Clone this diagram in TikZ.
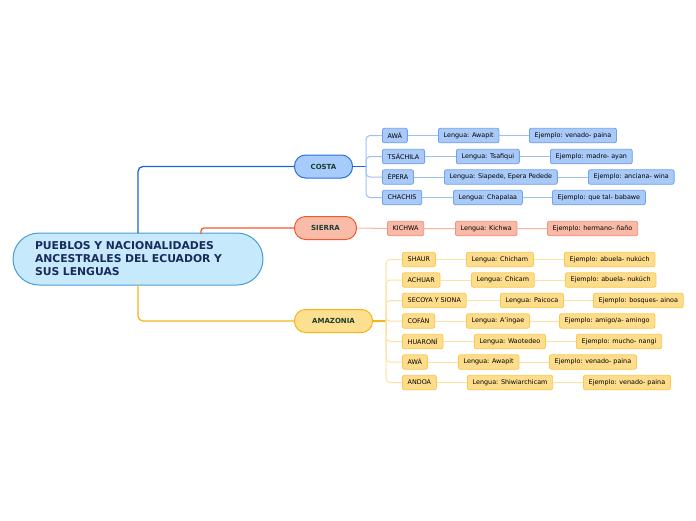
\documentclass[tikz,border=0pt]{standalone}
\usepackage{fontspec}
\setmainfont{DejaVu Sans}
\usetikzlibrary{positioning}
\definecolor{mainfill}{HTML}{C6EAFC}
\definecolor{mainborder}{HTML}{4C9BD6}
\definecolor{titlecol}{HTML}{1A2A5A}
\definecolor{cattext}{HTML}{1B3D33}
\definecolor{costaline}{HTML}{1C64D1}
\definecolor{costafill}{HTML}{A7CBFA}
\definecolor{costaborder}{HTML}{2C70DA}
\definecolor{cchildfill}{HTML}{A9C9F8}
\definecolor{cchildborder}{HTML}{6FA2EC}
\definecolor{clink}{HTML}{9CC0F2}
\definecolor{sierraline}{HTML}{F2582B}
\definecolor{sierrafill}{HTML}{F9BCA9}
\definecolor{schildfill}{HTML}{F8B9A6}
\definecolor{schildborder}{HTML}{F5917A}
\definecolor{slink}{HTML}{F9B5A2}
\definecolor{amaline}{HTML}{F6B516}
\definecolor{amafill}{HTML}{FDDF90}
\definecolor{achildfill}{HTML}{FDDC8C}
\definecolor{achildborder}{HTML}{FAC94E}
\definecolor{alink}{HTML}{FDE1A0}
\tikzset{
  mainbox/.style={draw=mainborder, line width=1pt, fill=mainfill, rounded corners=26pt,
    text width=206pt, inner xsep=22pt, inner ysep=0pt, minimum height=52pt, align=left,
    text=titlecol, font=\fontsize{10.8}{13}\selectfont\bfseries},
  catbox/.style={line width=1pt, rounded corners=11pt, minimum height=23pt, inner xsep=10pt,
    anchor=west, text=cattext, font=\fontsize{7}{8}\selectfont\bfseries},
  child/.style={line width=0.8pt, rounded corners=2pt, minimum height=14.5pt, inner xsep=5.3pt,
    inner ysep=0pt, anchor=west, font=\fontsize{6.4}{7}\selectfont},
  cchild/.style={child, draw=cchildborder, fill=cchildfill},
  schild/.style={child, draw=schildborder, fill=schildfill},
  achild/.style={child, draw=achildborder, fill=achildfill},
  clinkst/.style={draw=clink, line width=1pt},
  slinkst/.style={draw=slink, line width=1pt},
  alinkst/.style={draw=alink, line width=1pt},
}
\begin{document}
\begin{tikzpicture}[x=1pt,y=-1pt]
\useasboundingbox (0,0) rectangle (696,520);
% main
\node[mainbox] (main) at (138,259) {PUEBLOS Y NACIONALIDADES\\ANCESTRALES DEL ECUADOR Y\\SUS LENGUAS};
% categories
\node[catbox, draw=costaborder, fill=costafill, minimum width=58pt] (costa) at (294,166.5) {COSTA};
\node[catbox, draw=sierraline, fill=sierrafill, minimum width=62pt] (sierra) at (294,228) {SIERRA};
\node[catbox, draw=amaline, fill=amafill, minimum width=78pt] (ama) at (294,321) {AMAZONIA};
\coordinate (mc) at (138,233);
\coordinate (ms) at (201,234);
\coordinate (ma) at (138,285);
\draw[costaline, line width=1.3pt, rounded corners=5pt] (mc) |- (costa.west);
\draw[sierraline, line width=1.3pt, rounded corners=3pt] (ms) |- (sierra.west);
\draw[amaline, line width=1.3pt, rounded corners=5pt] (ma) |- (ama.west);
% COSTA children
\node[cchild] (c1) at (382,135.5) {AWÁ};
\node[cchild] (c1l) at (438,135.5) {Lengua: Awapit};
\node[cchild] (c1e) at (529,135.5) {Ejemplo: venado- paina};
\node[cchild] (c2) at (382,156.5) {TSÁCHILA};
\node[cchild] (c2l) at (456,156.5) {Lengua: Tsafiqui};
\node[cchild] (c2e) at (550,156.5) {Ejemplo: madre- ayan};
\node[cchild] (c3) at (382,177) {ÉPERA};
\node[cchild] (c3l) at (444,177) {Lengua: Siapede, Epera Pedede};
\node[cchild] (c3e) at (588,177) {Ejemplo: anciana- wina};
\node[cchild] (c4) at (382,197.5) {CHACHIS};
\node[cchild] (c4l) at (453,197.5) {Lengua: Chapalaa};
\node[cchild] (c4e) at (552,197.5) {Ejemplo: que tal- babawe};
\coordinate (cb) at (366,166.5);
\draw[costaline, line width=1.2pt] (costa.east) -- (cb);
\foreach \n in {c1,c2,c3,c4}{
  \draw[clinkst, rounded corners=4pt] (cb) |- (\n.west);
  \draw[clinkst] (\n.east) -- (\n l.west) (\n l.east) -- (\n e.west);
}
% SIERRA children
\node[schild] (s1) at (387,228.5) {KICHWA};
\node[schild] (s1l) at (455,228.5) {Lengua: Kichwa};
\node[schild] (s1e) at (547,228.5) {Ejemplo: hermano- ñaño};
\draw[slinkst] (sierra.east) -- (s1.west) (s1.east) -- (s1l.west) (s1l.east) -- (s1e.west);
% AMAZONIA children
\node[achild] (a1) at (402,259.5) {SHAUR};
\node[achild] (a1l) at (466,259.5) {Lengua: Chicham};
\node[achild] (a1e) at (564,259.5) {Ejemplo: abuela- nukúch};
\node[achild] (a2) at (402,280) {ACHUAR};
\node[achild] (a2l) at (471,280) {Lengua: Chicam};
\node[achild] (a2e) at (565,280) {Ejemplo: abuela- nukúch};
\node[achild] (a3) at (402,300.5) {SECOYA Y SIONA};
\node[achild] (a3l) at (500,300.5) {Lengua: Paicoca};
\node[achild] (a3e) at (593,300.5) {Ejemplo: bosques- ainoa};
\node[achild] (a4) at (402,321) {COFÁN};
\node[achild] (a4l) at (466,321) {Lengua: A'ingae};
\node[achild] (a4e) at (559,321) {Ejemplo: amigo/a- amingo};
\node[achild] (a5) at (402,341.5) {HUARONÍ};
\node[achild] (a5l) at (474,341.5) {Lengua: Waotedeo};
\node[achild] (a5e) at (576,341.5) {Ejemplo: mucho- nangi};
\node[achild] (a6) at (402,362) {AWÁ};
\node[achild] (a6l) at (458,362) {Lengua: Awapit};
\node[achild] (a6e) at (549,362) {Ejemplo: venado- paina};
\node[achild] (a7) at (402,382.5) {ANDOA};
\node[achild] (a7l) at (467,382.5) {Lengua: Shiwiarchicam};
\node[achild] (a7e) at (583,382.5) {Ejemplo: venado- paina};
\coordinate (ab) at (386,321);
\draw[amaline, line width=1.2pt] (ama.east) -- (ab);
\foreach \n in {a1,a2,a3,a4,a5,a6,a7}{
  \draw[alinkst, rounded corners=4pt] (ab) |- (\n.west);
  \draw[alinkst] (\n.east) -- (\n l.west) (\n l.east) -- (\n e.west);
}
\end{tikzpicture}
\end{document}
